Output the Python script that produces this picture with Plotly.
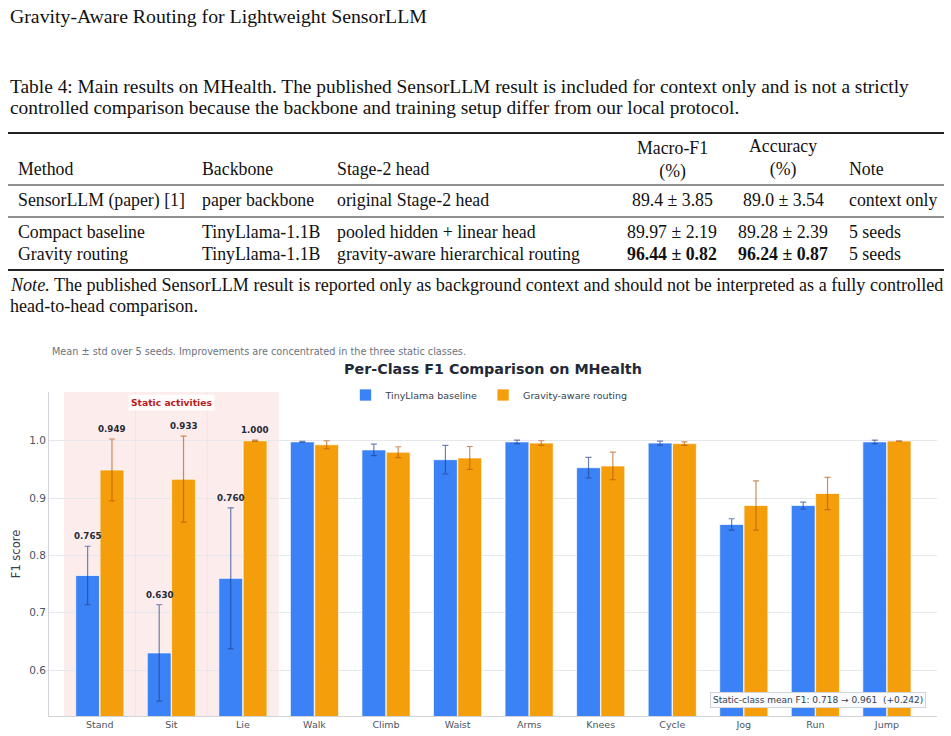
import plotly.graph_objects as go

W, H = 951, 736

# ---------------- data ----------------
classes = ["Stand", "Sit", "Lie", "Walk", "Climb", "Waist", "Arms", "Knees",
           "Cycle", "Jog", "Run", "Jump"]
baseline_mean = [0.765, 0.630, 0.760, 0.998, 0.984, 0.967, 0.998, 0.953,
                 0.996, 0.854, 0.887, 0.998]
baseline_std = [0.051, 0.084, 0.123, 0.001, 0.010, 0.025, 0.003, 0.018,
                0.0035, 0.010, 0.006, 0.003]
gravity_mean = [0.949, 0.933, 1.000, 0.993, 0.980, 0.970, 0.996, 0.956,
                0.995, 0.887, 0.908, 0.9995]
gravity_std = [0.054, 0.075, 0.001, 0.007, 0.0095, 0.020, 0.004, 0.024,
               0.003, 0.043, 0.028, 0.0005]
static_classes = ["Stand", "Sit", "Lie"]

page_header = "Gravity-Aware Routing for Lightweight SensorLLM"
caption_lines = [
    "Table 4: Main results on MHealth. The published SensorLLM result is included for context only and is not a strictly",
    "controlled comparison because the backbone and training setup differ from our local protocol.",
]
table_header = ["Method", "Backbone", "Stage-2 head", "Macro-F1<br>(%)", "Accuracy<br>(%)", "Note"]
table_rows = [
    ["SensorLLM (paper) [1]", "paper backbone", "original Stage-2 head", "89.4 ± 3.85", "89.0 ± 3.54", "context only"],
    ["Compact baseline", "TinyLlama-1.1B", "pooled hidden + linear head", "89.97 ± 2.19", "89.28 ± 2.39", "5 seeds"],
    ["Gravity routing", "TinyLlama-1.1B", "gravity-aware hierarchical routing", "<b>96.44 ± 0.82</b>", "<b>96.24 ± 0.87</b>", "5 seeds"],
]
note_lines = [
    "<i>Note.</i> The published SensorLLM result is reported only as background context and should not be interpreted as a fully controlled",
    "head-to-head comparison.",
]

subtitle = "Mean ± std over 5 seeds. Improvements are concentrated in the three static classes."
chart_title = "<b>Per-Class F1 Comparison on MHealth</b>"

# ---------------- helpers ----------------
def px(x):
    return x / W


def py(y):
    return 1 - y / H


SERIF = "Liberation Serif"
SANS = "DejaVu Sans"

fig = go.Figure()

fig.add_trace(go.Bar(
    x=classes, y=baseline_mean, name="TinyLlama baseline",
    marker=dict(color="#3b82f6", line=dict(color="rgba(255,255,255,0.7)", width=1)),
    error_y=dict(type="data", array=baseline_std, visible=True,
                 color="rgba(30,64,140,0.65)", thickness=1.2, width=3),
))
fig.add_trace(go.Bar(
    x=classes, y=gravity_mean, name="Gravity-aware routing",
    marker=dict(color="#f59e0b", line=dict(color="rgba(255,255,255,0.7)", width=1)),
    error_y=dict(type="data", array=gravity_std, visible=True,
                 color="rgba(180,83,9,0.65)", thickness=1.2, width=3),
))

annotations = []
shapes = []

# page header
annotations.append(dict(text=page_header, x=px(8), y=py(16), xref="paper", yref="paper",
                        xanchor="left", yanchor="middle", showarrow=False,
                        font=dict(family=SERIF, size=19.8, color="#111")))
# caption
for i, line in enumerate(caption_lines):
    annotations.append(dict(text=line, x=px(8), y=py(86 + 22 * i), xref="paper", yref="paper",
                            xanchor="left", yanchor="middle", showarrow=False,
                            font=dict(family=SERIF, size=19.4, color="#111")))

# table
col_x = [16, 200, 335, 672, 783, 847]
col_anchor = ["left", "left", "left", "center", "center", "left"]
TF = 17.8
hdr_y = [169, 169, 169, 160, 158, 169]
for j, h in enumerate(table_header):
    annotations.append(dict(text=h, x=px(col_x[j]), y=py(hdr_y[j]), xref="paper", yref="paper",
                            xanchor=col_anchor[j], yanchor="middle", showarrow=False,
                            align="center",
                            font=dict(family=SERIF, size=TF, color="#111")))
row_y = [200, 232, 254]
for r, row in enumerate(table_rows):
    for j, cell in enumerate(row):
        annotations.append(dict(text=cell, x=px(col_x[j]), y=py(row_y[r]), xref="paper", yref="paper",
                                xanchor=col_anchor[j], yanchor="middle", showarrow=False,
                                font=dict(family=SERIF, size=TF, color="#111")))
for yy, lw in [(133, 1.8), (185, 1.0), (217, 1.0), (270, 1.8)]:
    shapes.append(dict(type="line", xref="paper", yref="paper", x0=px(8), x1=px(944),
                       y0=py(yy), y1=py(yy), line=dict(color="#222", width=lw)))
for i, line in enumerate(note_lines):
    annotations.append(dict(text=line, x=px(8), y=py(285 + 21 * i), xref="paper", yref="paper",
                            xanchor="left", yanchor="middle", showarrow=False,
                            font=dict(family=SERIF, size=18.1, color="#111")))

# chart subtitle and title
annotations.append(dict(text=subtitle, x=px(50), y=py(351), xref="paper", yref="paper",
                        xanchor="left", yanchor="middle", showarrow=False,
                        font=dict(family=SANS, size=9.7, color="#6b7280")))
annotations.append(dict(text=chart_title, x=px(493), y=py(369), xref="paper", yref="paper",
                        xanchor="center", yanchor="middle", showarrow=False,
                        font=dict(family=SANS, size=14.3, color="#1f2937")))

# static region
idx = [classes.index(c) for c in static_classes]
shapes.append(dict(type="rect", xref="x", yref="y domain", x0=min(idx) - 0.5, x1=max(idx) + 0.5,
                   y0=0, y1=1, fillcolor="rgba(239,68,68,0.1)", line=dict(width=0), layer="below"))
for k in idx[:-1]:
    shapes.append(dict(type="line", xref="x", yref="y domain", x0=k + 0.5, x1=k + 0.5,
                       y0=0, y1=1, line=dict(color="rgba(220,38,38,0.06)", width=1), layer="below"))
annotations.append(dict(text="<b>Static activities</b>", x=static_classes[1], y=1.066, xref="x", yref="y",
                        showarrow=False, bgcolor="rgba(255,255,255,0.85)", borderpad=2,
                        font=dict(family=SANS, size=9.2, color="#b91c1c")))

# value labels on static classes
for c in static_classes:
    i = classes.index(c)
    for mean, std, shift in [(baseline_mean[i], baseline_std[i], -12), (gravity_mean[i], gravity_std[i], 12)]:
        annotations.append(dict(text=f"<b>{mean:.3f}</b>", x=c, y=mean + std, xref="x", yref="y",
                                xshift=shift, yshift=3, yanchor="bottom", showarrow=False,
                                font=dict(family=SANS, size=8.7, color="#1f2937")))

# summary box
b_static = sum(baseline_mean[i] for i in idx) / len(idx)
g_static = sum(gravity_mean[i] for i in idx) / len(idx)
annotations.append(dict(
    text=f"Static-class mean F1: {b_static:.3f} → {g_static:.3f}  (+{g_static - b_static:.3f})",
    x=px(926), y=py(699.5), xref="paper", yref="paper", xanchor="right", yanchor="middle",
    showarrow=False, bgcolor="#f8fafc", bordercolor="#d1d5db", borderwidth=1, borderpad=2,
    font=dict(family=SANS, size=9, color="#374151")))

fig.update_layout(
    width=W, height=H,
    margin=dict(l=0, r=0, t=0, b=0),
    paper_bgcolor="white", plot_bgcolor="white",
    font=dict(family=SANS, color="#4b5563"),
    barmode="group", bargap=0.32, bargroupgap=0.02,
    showlegend=True,
    legend=dict(orientation="h", x=px(489), xanchor="center", y=py(395), yanchor="middle",
                font=dict(family=SANS, size=9.5, color="#374151"), bgcolor="rgba(0,0,0,0)"),
    xaxis=dict(domain=[px(49), px(937)], range=[-0.71, 11.70], type="category",
               showline=True, linecolor="#d1d5db", linewidth=1, ticks="",
               tickfont=dict(family=SANS, size=9.5, color="#4b5563"), showgrid=False),
    yaxis=dict(domain=[py(716), py(392)], range=[0.52, 1.085], dtick=0.1, tick0=0,
               tickformat=".1f", showline=True, linecolor="#d1d5db", linewidth=1,
               gridcolor="#e5e7eb", gridwidth=1, zeroline=False, ticks="",
               tickfont=dict(family=SANS, size=10.5, color="#4b5563"),
               title=dict(text="F1 score", font=dict(family=SANS, size=11.5, color="#374151"), standoff=6)),
    annotations=annotations,
    shapes=shapes,
)

fig.write_html("out.html")
